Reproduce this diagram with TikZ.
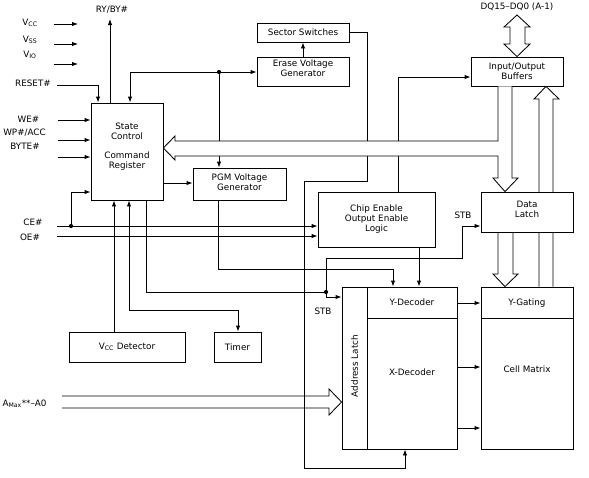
\documentclass[tikz,border=0pt]{standalone}
\usepackage{fontspec}
\setmainfont{DejaVu Sans}
\usetikzlibrary{arrows.meta}
\begin{document}
\begin{tikzpicture}[x=1pt,y=-1pt,
  line width=0.85pt,
  box/.style={draw, inner sep=0pt, fill=white},
  txt/.style={font=\fontsize{8.8}{10}\selectfont, inner sep=0pt, align=center},
  arr/.style={-{Latex[length=6pt,width=4.4pt]}},
  darr/.style={{Latex[length=6pt,width=4.4pt]}-{Latex[length=6pt,width=4.4pt]}},
  dotn/.style={circle, fill, inner sep=0pt, minimum size=4.2pt},
  hollow/.style={line join=miter}]
\useasboundingbox (0,0) rectangle (589,477);

% ---------- boxes ----------
\node[box, minimum width=72pt, minimum height=97pt] (sc) at (127,151.5) {};
\node[txt] (sctxt) at (127,146.5) {State\\Control\\[9pt]Command\\Register};
\node[box, txt, minimum width=92pt, minimum height=19pt] (ss) at (303,32.5) {Sector Switches};
\node[box, minimum width=92pt, minimum height=29pt] (evg) at (303,72) {};
\node[txt] (evgt) at (303,68.5) {Erase Voltage\\Generator};
\node[box, txt, minimum width=92pt, minimum height=29pt] (iob) at (517,71.5) {Input/Output\\Buffers};
\node[box, minimum width=93pt, minimum height=32pt] (pgm) at (239.5,184) {};
\node[txt] (pgmt) at (239.5,182) {PGM Voltage\\Generator};
\node[box, txt, minimum width=117pt, minimum height=55pt] (ce) at (376.5,219.5) {Chip Enable\\Output Enable\\Logic};
\node[box, minimum width=25pt, minimum height=162pt] (al) at (354.5,368) {};
\node[txt, rotate=90] (alt) at (354.5,366) {Address Latch};
\node[box, minimum width=90pt, minimum height=31pt] (yd) at (412,302.5) {};
\node[txt] (ydt) at (412,302) {Y-Decoder};
\node[box, minimum width=90pt, minimum height=131pt] (xd) at (412,383.5) {};
\node[txt] (xdt) at (412,372) {X-Decoder};
\node[box, minimum width=92pt, minimum height=31pt] (yg) at (527,302.5) {};
\node[txt] (ygt) at (527,303) {Y-Gating};
\node[box, minimum width=92pt, minimum height=131pt] (cm) at (527,383.5) {};
\node[txt] (cmt) at (527,369) {Cell Matrix};
\node[box, txt, minimum width=116pt, minimum height=30pt] (vdet) at (127,347) {V\textsubscript{CC} Detector};
\node[box, txt, minimum width=47pt, minimum height=30pt] (tmr) at (237.5,347) {Timer};

% Y-Gating -> I/O buffers (hollow), passing behind the Data Latch
\draw[hollow] (yg.north -| 539,0) -- (539,99) -- (534,99) -- (iob.south -| 546,0) -- (559,99) -- (553,99) -- (yg.north -| 553,0);
\node[box, minimum width=92pt, minimum height=40pt] (dl) at (527,212) {};
\node[txt] (dlt) at (527,209.5) {Data\\Latch};

% ---------- labels ----------
\node[txt] (lvcc) at (30,23) {V\textsubscript{CC}};
\node[txt] (lvss) at (30,40) {V\textsubscript{SS}};
\node[txt] (lvio) at (30,55) {V\textsubscript{IO}};
\node[txt] (lrst) at (33,83) {RESET\#};
\node[txt] (lry) at (112,10) {RY/BY\#};
\node[txt] (lwe) at (28.5,119) {WE\#};
\node[txt] (lwp) at (24.5,133) {WP\#/ACC};
\node[txt] (lby) at (25,146) {BYTE\#};
\node[txt] (lce) at (33,222) {CE\#};
\node[txt] (loe) at (30,237) {OE\#};
\node[txt] (lstb1) at (463,215) {STB};
\node[txt] (lstb2) at (323,311) {STB};
\node[txt, anchor=east] (laddr) at (47,404) {A\textsubscript{Max}**–A0};
\node[txt] (ldq) at (517,7) {DQ15–DQ0 (A-1)};

% ---------- connectors ----------
\coordinate (p1) at (54,24); \coordinate (p2) at (54,44); \coordinate (p3) at (54,64);
\draw[arr] (p1) -- (78,24);
\draw[arr] (p2) -- (78,44);
\draw[arr] (p3) -- (78,64);

\draw[arr] (57,85) -- (98,85) -- (sc.north -| 98,0);
\draw[arr] (sc.north -| 110,0) -- (110,19);

\draw[arr] (58,120) -- (sc.west |- 0,120);
\draw[arr] (58,140) -- (sc.west |- 0,140);
\draw[arr] (58,157) -- (sc.west |- 0,157);

\draw[arr] (57,226) -- (ce.west |- 0,226);
\draw[arr] (57,236) -- (ce.west |- 0,236);
\draw[arr] (71,226) -- (71,192) -- (sc.west |- 0,192);
\node[dotn] (dce) at (71,226) {};

% bus tap to State Control, Erase and PGM generators
\draw[arr] (219,72) -- (130,72) -- (sc.north -| 130,0);
\draw[arr] (219,72) -- (evg.west |- 0,72);
\draw[arr] (219,72) -- (pgm.north -| 219,0);
\node[dotn] (dtap) at (219,72) {};

\draw[arr] (evg.north) -- (ss.south);
\draw[arr] (ss.east) -- (367,32.5) -- (367,181) -- (304,181) -- (304,468) -- (405,468) -- (xd.south -| 405,0);
\draw[arr] (ce.north -| 398,0) -- (398,77) -- (iob.west |- 0,77);

% main data bus (hollow) from I/O buffers
\draw[hollow, fill=white] (iob.south -| 498,0) -- (498,141) -- (175,141) -- (175,136) -- (sc.east |- 0,148) -- (175,160) -- (175,156) -- (498,156) -- (498,178) -- (493,178) -- (dl.north -| 505,0) -- (518,178) -- (512,178) -- (iob.south -| 512,0);

\draw[arr] (sc.east |- 0,183) -- (pgm.west |- 0,183);

\draw[arr] (vdet.north -| 114,0) -- (sc.south -| 114,0);
\draw[darr] (sc.south -| 129,0) -- (129,310) -- (238,310) -- (tmr.north -| 238,0);

\draw (sc.south -| 146,0) -- (146,292) -- (326,292);
\draw[arr] (326,292) -- (326,297) -- (al.west |- 0,297);
\draw[arr] (326,292) -- (326,258) -- (462,258) -- (462,226) -- (dl.west |- 0,226);
\node[dotn] (dstb) at (326,292) {};

\draw[arr] (pgm.south -| 218,0) -- (218,269) -- (393,269) -- (yd.north -| 393,0);
\draw[arr] (ce.south -| 419,0) -- (yd.north -| 419,0);

\draw[arr] (yd.east |- 0,303) -- (yg.west |- 0,303);
\draw[arr] (xd.east |- 0,367) -- (cm.west |- 0,367);
\draw[arr] (xd.east |- 0,428) -- (cm.west |- 0,428);

% Data Latch -> Y-Gating (hollow)
\draw[hollow] (dl.south -| 498,0) -- (498,274) -- (493,274) -- (yg.north -| 505,0) -- (518,274) -- (513,274) -- (dl.south -| 513,0);

% DQ bidirectional hollow arrow
\draw[hollow] (510,27) -- (504,27) -- (517,15) -- (530,27) -- (525,27) -- (525,44) -- (530,44) -- (iob.north) -- (504,44) -- (510,44) -- cycle;

% address bus (hollow)
\draw[hollow] (62,396) -- (329,396) -- (329,389) -- (al.west |- 0,402) -- (329,415) -- (329,408) -- (62,408);
\end{tikzpicture}
\end{document}
